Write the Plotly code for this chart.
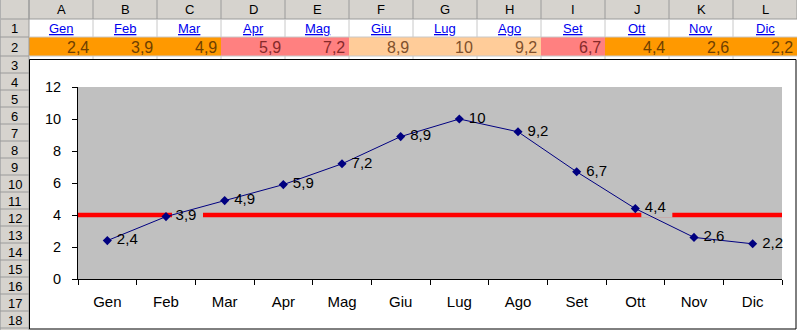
import plotly.graph_objects as go

# ---- data -------------------------------------------------------------
months = ["Gen", "Feb", "Mar", "Apr", "Mag", "Giu", "Lug", "Ago", "Set", "Ott", "Nov", "Dic"]
col_letters = ["A", "B", "C", "D", "E", "F", "G", "H", "I", "J", "K", "L"]
values = [2.4, 3.9, 4.9, 5.9, 7.2, 8.9, 10, 9.2, 6.7, 4.4, 2.6, 2.2]
threshold = 4
y_ticks = [0, 2, 4, 6, 8, 10, 12]
grid_vals = [2, 4, 6, 8, 10]
row_numbers = list(range(1, 20))

# conditional-format bands for row 2 (upper limits)
band_limits = [5, 8]
band_fill = ["#FF9900", "#FF8080", "#FFCC99"]
band_font = ["#6e3f00", "#862a2a", "#80502c"]

# ---- page geometry (pixels) -------------------------------------------
W, H = 797, 330
HDR_H = 19          # column-letter header
ROW1 = (19, 37)
ROW2 = (37, 56)
ROW_H = 17          # rows 3 and below
RH_W = 29           # row-number column width
COL_W = 64
CHART = (29.5, 59.5, 796, 329)          # chart object frame
PLOT = (78, 87, 782, 279)               # plot area (left, top, right, bottom)
FONT = "Arial, 'Liberation Sans', sans-serif"


def px(x):
    return x / W


def py(y):
    return 1 - y / H


def it_num(v):
    return f"{v:g}".replace(".", ",")


def band(v):
    for k, lim in enumerate(band_limits):
        if v < lim:
            return k
    return len(band_limits)


def row_span(r):
    if r == 1:
        return ROW1
    if r == 2:
        return ROW2
    top = ROW2[1] + (r - 3) * ROW_H
    return (top, top + ROW_H)


shapes = []
annotations = []


def rect(x0, y0, x1, y1, fill=None, line=None, width=1):
    shapes.append(dict(type="rect", xref="paper", yref="paper",
                       x0=px(x0), x1=px(x1), y0=py(y1), y1=py(y0),
                       fillcolor=fill or "rgba(0,0,0,0)",
                       line=dict(color=line or "rgba(0,0,0,0)", width=width),
                       layer="below"))


def seg(x0, y0, x1, y1, color, width=1):
    shapes.append(dict(type="line", xref="paper", yref="paper",
                       x0=px(x0), x1=px(x1), y0=py(y0), y1=py(y1),
                       line=dict(color=color, width=width), layer="below"))


# ---- spreadsheet frame -------------------------------------------------
HDR_BG = "#D6D3CE"
HDR_LINE = "#9a9a9a"
CELL_LINE = "#C8C8C8"

rect(0, 0, W, HDR_H, fill=HDR_BG)
rect(0, 0, RH_W, H, fill=HDR_BG)

# row 2 cells with conditional fills
for i, v in enumerate(values):
    x0 = RH_W + i * COL_W
    rect(x0, ROW2[0], x0 + COL_W, ROW2[1], fill=band_fill[band(v)])

# column header separators + letters
for i in range(len(col_letters) + 1):
    x = RH_W + i * COL_W
    seg(x, 0, x, HDR_H, HDR_LINE)
for i, c in enumerate(col_letters):
    annotations.append(dict(xref="paper", yref="paper", x=px(RH_W + (i + 0.5) * COL_W),
                            y=py(HDR_H / 2 + 0.5), text=c, showarrow=False,
                            font=dict(family=FONT, size=13, color="#000000"),
                            xanchor="center", yanchor="middle"))
seg(0, HDR_H, W, HDR_H, HDR_LINE)
seg(RH_W, 0, RH_W, H, HDR_LINE)
seg(0.5, 0, 0.5, H, "#b0b0b0")

# row numbers
for r in row_numbers:
    t, b = row_span(r)
    seg(0, b, RH_W, b, HDR_LINE)
    if b <= H + 8:
        annotations.append(dict(xref="paper", yref="paper", x=px(RH_W / 2),
                                y=py((t + b) / 2 + 0.5), text=str(r), showarrow=False,
                                font=dict(family=FONT, size=13, color="#000000"),
                                xanchor="center", yanchor="middle"))

# cell gridlines visible outside the chart frame
for i in range(1, len(col_letters)):
    x = RH_W + i * COL_W
    seg(x, ROW1[0], x, ROW1[1], CELL_LINE)
    seg(x, ROW2[1], x, CHART[1], CELL_LINE)
seg(RH_W, ROW1[1], W, ROW1[1], CELL_LINE)
seg(RH_W, ROW2[1], W, ROW2[1], CELL_LINE)

# row 1: month names (hyperlink style); row 2: values
for i, (m, v) in enumerate(zip(months, values)):
    x0 = RH_W + i * COL_W
    annotations.append(dict(xref="paper", yref="paper", x=px(x0 + COL_W / 2),
                            y=py((ROW1[0] + ROW1[1]) / 2 + 0.5), text=f"<u>{m}</u>",
                            showarrow=False, font=dict(family=FONT, size=13, color="#0000EE"),
                            xanchor="center", yanchor="middle"))
    annotations.append(dict(xref="paper", yref="paper", x=px(x0 + COL_W - 2),
                            y=py((ROW2[0] + ROW2[1]) / 2 + 0.5), text=it_num(v),
                            showarrow=False, font=dict(family=FONT, size=16, color=band_font[band(v)]),
                            xanchor="right", yanchor="middle"))

# chart object frame
rect(*CHART, fill=None, line="#000000", width=1)

# ---- threshold line and label backgrounds (above grid, below series) ---
cat_px = (PLOT[2] - PLOT[0]) / len(months)
unit_px = (PLOT[3] - PLOT[1]) / (y_ticks[-1] - y_ticks[0])
shapes.append(dict(type="line", xref="x", yref="y", x0=-0.5, x1=len(months) - 0.5,
                   y0=threshold, y1=threshold, line=dict(color="#FF0000", width=4.5),
                   layer="between"))
labels = [it_num(v) for v in values]
for i, (v, s) in enumerate(zip(values, labels)):
    w = sum(4.2 if ch == "," else 8.4 for ch in s) + 10
    shapes.append(dict(type="rect", xref="x", yref="y",
                       x0=i + 6 / cat_px, x1=i + (6 + w) / cat_px,
                       y0=v - 9 / unit_px, y1=v + 8 / unit_px,
                       fillcolor="#C0C0C0", line=dict(width=0), layer="between"))

# ---- chart -------------------------------------------------------------
fig = go.Figure()
fig.add_trace(go.Scatter(
    x=months, y=values, mode="lines+markers+text",
    line=dict(color="#000080", width=1),
    marker=dict(symbol="diamond", size=7, color="#000080"),
    text=["\u00a0" + s for s in labels], textposition="middle right",
    textfont=dict(family=FONT, size=15, color="#000000"),
    hoverinfo="skip", cliponaxis=False, showlegend=False,
))

fig.update_layout(
    width=W, height=H, autosize=False,
    margin=dict(l=0, r=0, t=0, b=0, pad=0, autoexpand=False),
    paper_bgcolor="#FFFFFF", plot_bgcolor="#C0C0C0",
    shapes=shapes, annotations=annotations, showlegend=False,
    xaxis=dict(type="category", categoryorder="array", categoryarray=months,
               range=[-0.5, len(months) - 0.5], automargin=False,
               domain=[px(PLOT[0]), px(PLOT[2])],
               showgrid=False, zeroline=False, showline=True, linecolor="#000000", linewidth=1,
               ticks="outside", ticklen=5, tickcolor="#000000", tickson="boundaries",
               tickfont=dict(family=FONT, size=15, color="#000000"), ticklabelstandoff=9),
    yaxis=dict(range=[y_ticks[0], y_ticks[-1]], domain=[py(PLOT[3]), py(PLOT[1])],
               tickvals=y_ticks, ticktext=[str(t) for t in y_ticks], automargin=False,
               showgrid=False, zeroline=False, showline=True, linecolor="#000000", linewidth=1,
               ticks="outside", ticklen=5, tickcolor="#000000",
               tickfont=dict(family=FONT, size=14.5, color="#000000"), ticklabelstandoff=8),
    yaxis2=dict(range=[y_ticks[0], y_ticks[-1]], overlaying="y", side="left", automargin=False,
                tickvals=grid_vals, showticklabels=False, ticks="",
                showgrid=True, gridcolor="#000000", gridwidth=1, zeroline=False, showline=False),
)

fig.write_html("out.html")
